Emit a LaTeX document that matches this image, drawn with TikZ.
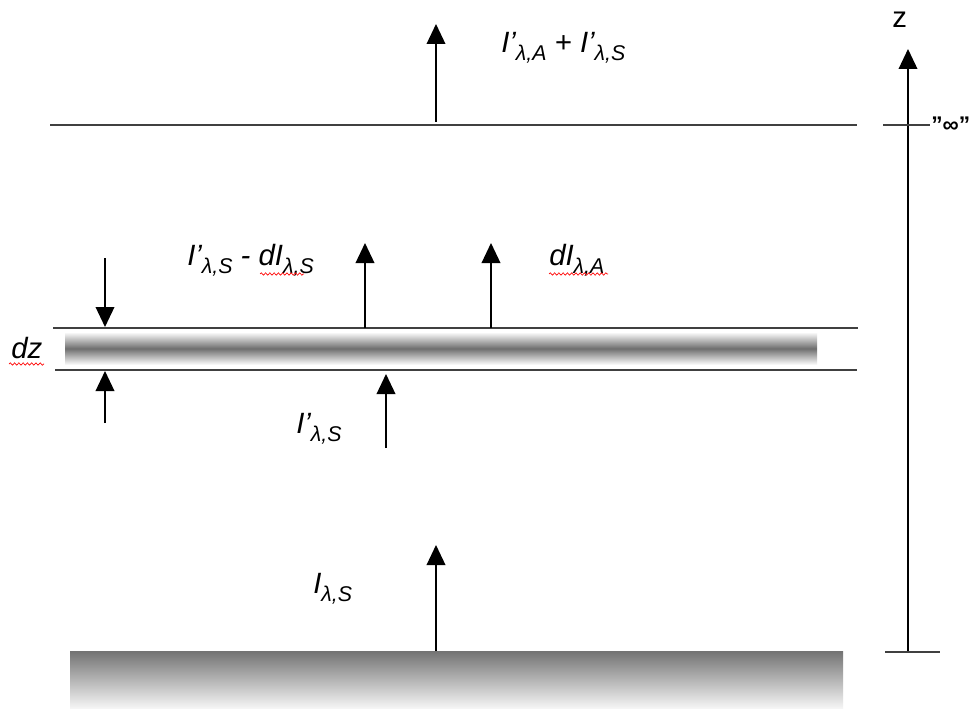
\documentclass[tikz,border=0pt]{standalone}
\usepackage{fontspec}
\setmainfont{Liberation Sans}
\usetikzlibrary{arrows.meta,decorations.pathmorphing}
\definecolor{linegray}{RGB}{64,64,64}
\definecolor{bandgray}{RGB}{110,110,110}
\newcommand{\lsub}[1]{\raisebox{-6pt}{\fontsize{16}{19}\selectfont #1}}
\tikzset{
  flux/.style={-{Triangle[length=15pt,width=14pt]},line width=1.1pt},
  level/.style={line width=1.4pt,linegray},
  lbl/.style={anchor=base west,inner sep=0pt,font=\fontsize{22}{26}\selectfont\itshape},
  spell/.style={red,line width=0.5pt,decorate,decoration={snake,amplitude=0.9pt,segment length=3.2pt}}
}

\begin{document}
\begin{tikzpicture}[x=0.75pt,y=-0.75pt]
\fill[white] (0,0) rectangle (973,709);
\useasboundingbox (0,0) rectangle (973,709);

% ===== GROUND SURFACE =====
\shade[top color=black!55,bottom color=black!3] (70,651) rectangle (843,709);
\coordinate (g0) at (436,651);
\coordinate (g1) at (436,545);
\draw[flux] (g0) -- (g1);
\node[lbl] (Isurf) at (313,593) {I\lsub{λ,S}};

% ===== LAYER dz =====
\shade[top color=white,bottom color=white,middle color=bandgray] (65,332) rectangle (817,365);
\draw[level] (53,328) coordinate (ltop0) -- (858,328) coordinate (ltop1);
\draw[level] (55,370) coordinate (lbot0) -- (857,370) coordinate (lbot1);
% incoming beam
\coordinate (b0) at (386,448);
\coordinate (b1) at (386,374);
\draw[flux] (b0) -- (b1);
\node[lbl] (Iin) at (296,433) {I’\lsub{λ,S}};
% outgoing beams
\foreach \x/\nm in {365/out,491/emit}{
  \coordinate (\nm0) at (\x,328);
  \coordinate (\nm1) at (\x,243);
  \draw[flux] (\nm0) -- (\nm1);
}
\node[lbl] (Iout) at (187,265) {I’\lsub{λ,S} - dI\lsub{λ,S}};
\node[lbl] (dIA) at (549,265) {dI\lsub{λ,A}};
\draw[spell] (260,274) -- (304,274);
\draw[spell] (549,274) -- (608,274);
% thickness marks
\coordinate (d0) at (105,258);
\coordinate (d1) at (105,327);
\coordinate (d2) at (105,423);
\coordinate (d3) at (105,371);
\draw[flux] (d0) -- (d1);
\draw[flux] (d2) -- (d3);
\node[lbl] (dz) at (11,358) {dz};
\draw[spell] (9,364) -- (44,364);

% ===== TOP OF ATMOSPHERE =====
\draw[level] (50,125) coordinate (t0) -- (857,125) coordinate (t1);
\coordinate (a0) at (436,122);
\coordinate (a1) at (436,24);
\draw[flux] (a0) -- (a1);
\node[lbl] (Itop) at (501,53) {I’\lsub{λ,A} + I’\lsub{λ,S}};

% ===== HEIGHT AXIS =====
\coordinate (z0) at (908,652);
\coordinate (z1) at (908,49);
\draw[flux] (z0) -- (z1);
\draw[level] (883,125) -- (930,125);
\draw[level] (885,652) -- (940,652);
\node[lbl,font=\fontsize{22}{26}\selectfont] (zlab) at (892,28) {z};
\node[lbl,font=\fontsize{17}{20}\selectfont\bfseries] (inf) at (931,133) {\symbol{34}∞\symbol{34}};

\end{tikzpicture}
\end{document}
